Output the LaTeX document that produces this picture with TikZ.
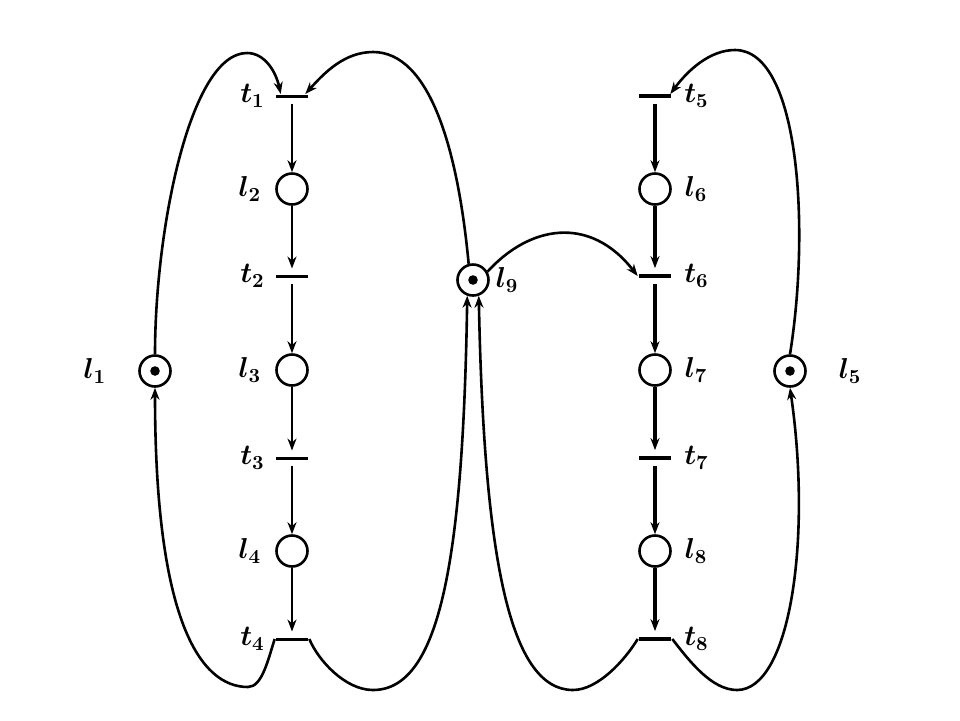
\documentclass[tikz,border=0pt]{standalone}
\usepackage{amsmath}
\usetikzlibrary{arrows.meta,positioning}

\begin{document}
\begin{tikzpicture}[x=0.5pt,y=-0.5pt,line width=1.3pt,
    >={Stealth[length=6pt,width=4.5pt]},
    place/.style={draw,circle,minimum size=15.5pt,inner sep=0pt},
    trans/.style={fill,rectangle,minimum width=16pt,minimum height=1.5pt,
                  inner sep=0pt,outer ysep=3pt},
    heavy/.style={line width=1.8pt},
    every label/.style={font=\Large\boldmath}]
  \useasboundingbox (0,0) rectangle (960,720);

  % left chain
  \node[trans,label={[label distance=1pt]left:$t_1$}] (t1) at (292,96) {};
  \node[place,label={[label distance=3pt]left:$l_2$}] (l2) at (292,189) {};
  \node[trans,label={[label distance=1pt]left:$t_2$}] (t2) at (292,276) {};
  \node[place,label={[label distance=3pt]left:$l_3$}] (l3) at (292,370) {};
  \node[trans,label={[label distance=1pt]left:$t_3$}] (t3) at (292,458) {};
  \node[place,label={[label distance=3pt]left:$l_4$}] (l4) at (292,551) {};
  \node[trans,label={[label distance=1pt]left:$t_4$}] (t4) at (292,639) {};

  % right chain
  \node[trans,minimum height=1.9pt,label={[label distance=2pt]right:$t_5$}] (t5) at (655,96) {};
  \node[place,label={[label distance=2.5pt]right:$l_6$}] (l6) at (655,189) {};
  \node[trans,minimum height=1.9pt,label={[label distance=2pt]right:$t_6$}] (t6) at (655,276) {};
  \node[place,label={[label distance=2.5pt]right:$l_7$}] (l7) at (655,370) {};
  \node[trans,minimum height=1.9pt,label={[label distance=2pt]right:$t_7$}] (t7) at (655,458) {};
  \node[place,label={[label distance=2.5pt]right:$l_8$}] (l8) at (655,551) {};
  \node[trans,minimum height=1.9pt,label={[label distance=2pt]right:$t_8$}] (t8) at (655,639) {};

  % marked places
  \node[place,label={[label distance=12pt]left:$l_1$}] (l1) at (155,371) {};
  \node[place,label={[label distance=-1pt]right:$l_9$}] (l9) at (473,280) {};
  \node[place,label={[label distance=12pt]right:$l_5$}] (l5) at (790,371) {};
  \foreach \p in {l1,l9,l5}
    \fill (\p) circle (2.4pt);

  \foreach \a/\b in {t1/l2,l2/t2,t2/l3,l3/t3,t3/l4,l4/t4}
    \draw[->] (\a) -- (\b);
  \foreach \a/\b in {t5/l6,l6/t6,t6/l7,l7/t7,t7/l8,l8/t8}
    \draw[->,heavy] (\a) -- (\b);

  % loops back to the first transitions
  \draw[->] (l1.north) .. controls (155,230) and (190,53) .. (247,53)
    .. controls (265,53) and (276,72) .. ([xshift=3pt,yshift=1pt]t1.west);
  \draw[->] (l9.105) .. controls (458,150) and (430,52) .. (373,52)
    .. controls (345,52) and (325,72) .. ([xshift=-2pt,yshift=1pt]t1.east);
  \draw[->] (l5.north) .. controls (810,230) and (800,50) .. (735,50)
    .. controls (710,50) and (688,70) .. ([xshift=-1pt,yshift=1pt]t5.east);
  \draw[->] (l9.30) .. controls (530,225) and (590,215) .. (t6.west);

  % loops from the last transitions
  \draw[->] (t4.west) .. controls (268,660) and (262,687) .. (248,687)
    .. controls (200,687) and (155,620) .. (l1.south);
  \draw[->] (t4.east) .. controls (318,660) and (345,690) .. (373,690)
    .. controls (440,690) and (463,560) .. (l9.250);
  \draw[->] (t8.west) .. controls (625,660) and (598,690) .. (573,690)
    .. controls (510,690) and (484,560) .. (l9.290);
  \draw[->] (t8.east) .. controls (690,662) and (712,690) .. (737,690)
    .. controls (790,690) and (812,540) .. (l5.south);
\end{tikzpicture}
\end{document}
